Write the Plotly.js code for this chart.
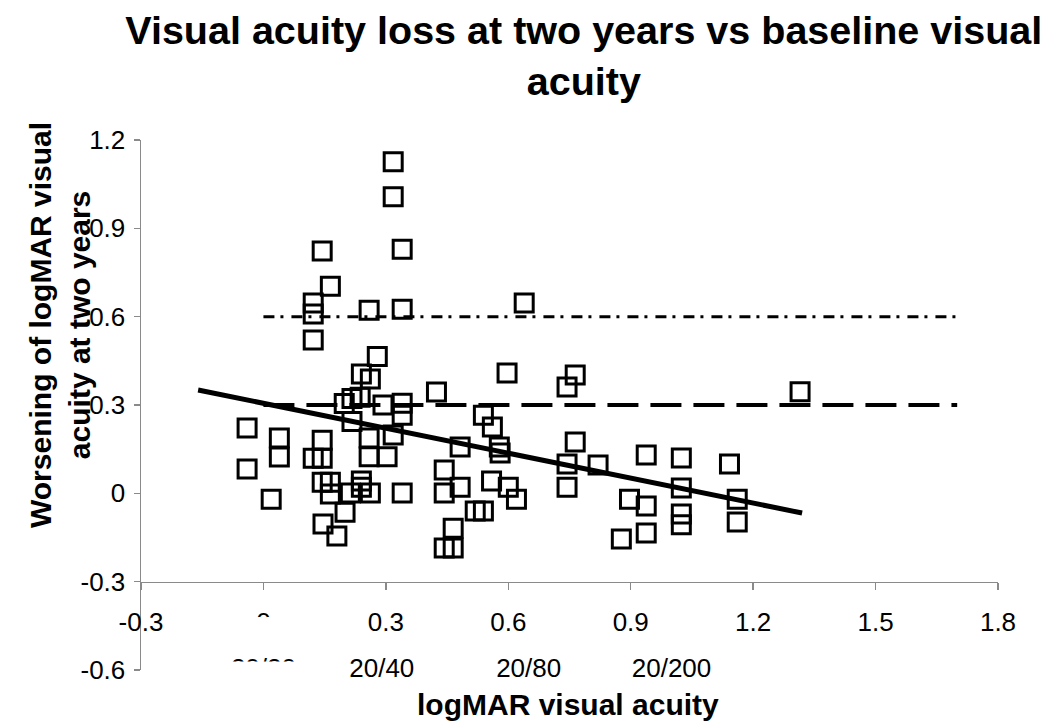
<!DOCTYPE html>
<html>
<head>
<meta charset="utf-8">
<script src="https://cdn.plot.ly/plotly-3.0.1.min.js"></script>
<style>html,body{margin:0;padding:0;background:#fff;}#chart{width:1050px;height:727px;}</style>
</head>
<body>
<div id="chart"></div>
<script>
// Baseline logMAR acuity (x) and worsening at two years (y)
const baselineVA = [
  0.318, 0.318, 0.144, 0.340, 0.164, 0.122, 0.122, 0.259, 0.340, 0.122, 0.279,
  0.240, 0.262, 0.198, 0.217, 0.217, 0.237, 0.293, 0.340, 0.340, 0.424, 0.318,
  0.259, 0.259, 0.303, 0.144, 0.144, 0.122,
  -0.040, -0.040, 0.019, 0.039, 0.039,
  0.144, 0.164, 0.164, 0.240, 0.240, 0.262, 0.213, 0.340, 0.200, 0.146, 0.180,
  0.443, 0.482, 0.443, 0.519, 0.539, 0.465, 0.443, 0.465, 0.482, 0.539, 0.561,
  0.578, 0.580, 0.559, 0.600, 0.620, 0.639, 0.597, 0.764, 0.744, 0.764, 0.744,
  0.744, 0.820,
  0.897, 0.938, 0.938, 0.877, 0.938, 1.024, 1.024, 1.024, 1.024, 1.142, 1.161,
  1.161, 1.315
];
const worsening = [
  1.126, 1.007, 0.823, 0.829, 0.703, 0.646, 0.609, 0.622, 0.625, 0.521, 0.465,
  0.405, 0.388, 0.305, 0.322, 0.244, 0.326, 0.300, 0.306, 0.265, 0.344, 0.198,
  0.188, 0.124, 0.124, 0.180, 0.119, 0.119,
  0.222, 0.083, -0.020, 0.188, 0.123,
  0.038, 0.038, -0.002, 0.042, 0.021, 0.001, 0.001, 0.001, -0.064, -0.104, -0.145,
  0.079, 0.021, 0.001, -0.060, -0.060, -0.119, -0.186, -0.186, 0.157, 0.265, 0.225,
  0.157, 0.137, 0.042, 0.021, -0.020, 0.646, 0.409, 0.402, 0.361, 0.174, 0.100,
  0.021, 0.096,
  -0.020, -0.043, -0.135, -0.155, 0.130, 0.120, 0.018, -0.070, -0.107, 0.100, -0.020,
  -0.097, 0.345
];

// Regression line end points
const trendX = [-0.16, 1.32];
const trendY = [0.351, -0.067];

// Reference lines
const refX = [0, 1.7];
const severeY = [0.6, 0.6];
const moderateY = [0.3, 0.3];

// Axis ticks
const xTickVals = [-0.3, 0, 0.3, 0.6, 0.9, 1.2, 1.5, 1.8];
const xTickText = ['-0.3', '0', '0.3', '0.6', '0.9', '1.2', '1.5', '1.8'];
const yTickVals = [-0.6, -0.3, 0, 0.3, 0.6, 0.9, 1.2];
const yTickText = ['-0.6', '-0.3', '0', '0.3', '0.6', '0.9', '1.2'];
const snellenPos = [0, 0.29, 0.65, 1.0];
const snellenText = ['20/20', '20/40', '20/80', '20/200'];

const FONT = 'Liberation Sans, Arial, Helvetica, sans-serif';
const AXIS_GREY = '#8a8a8a';

const traces = [
  {
    x: refX, y: severeY, type: 'scatter', mode: 'lines',
    line: {color: '#000', width: 3, dash: '11px,6px,3px,8px'},
    hoverinfo: 'skip', showlegend: false
  },
  {
    x: refX, y: moderateY, type: 'scatter', mode: 'lines',
    line: {color: '#000', width: 4, dash: '31px,12px'},
    hoverinfo: 'skip', showlegend: false
  },
  {
    x: baselineVA, y: worsening, type: 'scatter', mode: 'markers',
    marker: {symbol: 'square-open', size: 18, color: '#000', line: {width: 3, color: '#000'}},
    showlegend: false
  },
  {
    x: trendX, y: trendY, type: 'scatter', mode: 'lines',
    line: {color: '#000', width: 5},
    showlegend: false
  },
  // empty carrier trace so the Snellen label axis is drawn
  {
    x: snellenPos, y: snellenPos.map(() => null), xaxis: 'x2', yaxis: 'y',
    type: 'scatter', mode: 'markers', marker: {opacity: 0},
    hoverinfo: 'skip', showlegend: false
  }
];

const layout = {
  width: 1050, height: 727,
  margin: {l: 141, r: 52, t: 140, b: 57},
  paper_bgcolor: '#fff', plot_bgcolor: '#fff',
  showlegend: false,
  font: {family: FONT, color: '#000'},
  title: {
    text: 'Visual acuity loss at two years vs baseline visual<br>acuity',
    font: {family: FONT, size: 39.5, weight: 'bold', color: '#000'},
    x: 0.556, xanchor: 'center', xref: 'container',
    y: 0.94, yanchor: 'top', yref: 'container'
  },
  xaxis: {
    range: [-0.3, 1.8], tickmode: 'array', tickvals: xTickVals, ticktext: xTickText,
    anchor: 'free', position: 1/6,
    showline: true, linecolor: AXIS_GREY, linewidth: 1.5,
    ticks: 'outside', ticklen: 7, tickcolor: AXIS_GREY, tickwidth: 1.5,
    tickfont: {family: FONT, size: 26, color: '#000'},
    ticklabelstandoff: 10,
    showgrid: false, zeroline: false, fixedrange: true
  },
  xaxis2: {
    overlaying: 'x', range: [-0.3, 1.8], anchor: 'free', position: 0.0375,
    tickmode: 'array', tickvals: snellenPos, ticktext: snellenText,
    ticks: '', showline: false, showgrid: false, zeroline: false,
    tickfont: {family: FONT, size: 26, color: '#000'}, fixedrange: true
  },
  yaxis: {
    range: [-0.6, 1.2], tickmode: 'array', tickvals: yTickVals, ticktext: yTickText,
    showline: true, linecolor: AXIS_GREY, linewidth: 1.5,
    ticks: 'outside', ticklen: 6, tickcolor: AXIS_GREY, tickwidth: 1.5,
    tickfont: {family: FONT, size: 26, color: '#000'},
    ticklabelstandoff: 3,
    showgrid: false, zeroline: false, fixedrange: true
  },
  annotations: [
    {
      text: 'logMAR visual acuity', xref: 'paper', yref: 'paper',
      x: 0.498, y: -0.066, xanchor: 'center', yanchor: 'middle', showarrow: false,
      font: {family: FONT, size: 30, weight: 'bold', color: '#000'}
    },
    {
      text: 'Worsening of logMAR visual<br>acuity at two years', xref: 'paper', yref: 'paper',
      x: -0.0945, y: 0.651, xanchor: 'center', yanchor: 'middle', showarrow: false,
      textangle: -90,
      font: {family: FONT, size: 30, weight: 'bold', color: '#000'}
    }
  ],
  shapes: [
    {type: 'rect', layer: 'above', xref: 'x', yref: 'paper', x0: -0.05, x1: 0.05, y0: 0.057, y1: 0.1,
      fillcolor: '#fff', line: {width: 0}},
    {type: 'rect', layer: 'above', xref: 'x', yref: 'paper', x0: -0.11, x1: 0.12, y0: -0.04, y1: 0.016,
      fillcolor: '#fff', line: {width: 0}}
  ]
};

Plotly.newPlot('chart', traces, layout, {staticPlot: true, displayModeBar: false});
</script>
</body>
</html>
